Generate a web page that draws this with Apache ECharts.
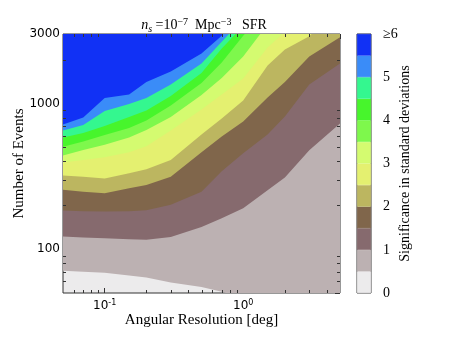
<!DOCTYPE html>
<html>
<head>
<meta charset="utf-8">
<script src="https://cdn.jsdelivr.net/npm/echarts@6/dist/echarts.min.js"></script>
<style>
  html, body { margin: 0; padding: 0; background: #fff; }
  #chart { width: 455px; height: 341px; }
</style>
</head>
<body>
<div id="chart"></div>
<script>
// angular resolution [deg] where the contours were read
const resolution = [0.05, 0.07, 0.1, 0.15, 0.2, 0.3, 0.5, 0.7, 1, 1.5, 2, 3, 5]
// number of events on each significance contour (sigma)
const sig05 = [71, 70, 69, 66, 64, 59, 55, 51, 46, 43, 41, 38, 35]
const sig10 = [122, 120, 119, 117, 116, 121, 142, 163, 191, 254, 311, 477, 730]
const sig15 = [184, 182, 181, 182, 185, 202, 248, 342, 455, 613, 815, 1349, 1879]
const sig20 = [256, 248, 242, 262, 276, 314, 462, 594, 753, 1099, 1404, 2098, 2854]
const sig25 = [321, 314, 306, 332, 353, 410, 613, 790, 1048, 1821, 2344, 2900, 4500]
const sig30 = [394, 410, 427, 462, 508, 653, 910, 1152, 1484, 2419, 3100, 4500, 7000]
const sig35 = [440, 480, 520, 585, 658, 808, 1143, 1495, 2098, 3500, 5000, 7000, 10000]
const sig40 = [504, 549, 608, 680, 765, 969, 1382, 1909, 2917, 4500, 6500, 9000, 14000]
const sig45 = [585, 628, 701, 808, 896, 1126, 1618, 2381, 3400, 5000, 7000, 10000, 15000]
const sig50 = [653, 712, 888, 992, 1091, 1349, 1879, 2659, 3800, 5500, 7500, 11000, 16000]
const sig55 = [718, 802, 1091, 1152, 1404, 1656, 2200, 2923, 4200, 6000, 8000, 12000, 18000]
const contours = [sig05, sig10, sig15, sig20, sig25, sig30, sig35, sig40, sig45, sig50, sig55]
// colour bar bands, 0 to 6 sigma in steps of 0.5
const bandStart = [0, 0.5, 1, 1.5, 2, 2.5, 3, 3.5, 4, 4.5, 5, 5.5]
const bandColors = ['#ecebec', '#bcb1b2', '#866a6e', '#80664b', '#bcb660', '#e4f070',
  '#d4fb70', '#7ef84c', '#47f52c', '#34f78f', '#3a8cf8', '#1131f5']
// minor ticks of the log axes
const minorX = [0.06, 0.07, 0.08, 0.09, 0.2, 0.3, 0.4, 0.5, 0.6, 0.7, 0.8, 0.9, 2, 3, 4]
const minorY = [60, 70, 80, 90, 200, 300, 400, 500, 600, 700, 800, 900, 2000]

const chart = echarts.init(document.getElementById('chart'))
const serif = 'Liberation Serif'
const sans = 'DejaVu Sans'
const frame = '#333'
const xMin = 0.05, xMax = 5, yMin = 50, yMax = 3000

const areaSeries = contours.map((vals, i) => ({
  type: 'line',
  xAxisIndex: 0,
  yAxisIndex: 0,
  data: resolution.map((x, j) => [x, vals[j]]),
  symbol: 'none',
  silent: true,
  clip: true,
  lineStyle: { width: 0, opacity: 0 },
  areaStyle: { origin: 'end', color: bandColors[i + 1], opacity: 1 }
}))

const barSeries = bandStart.map((b, i) => ({
  type: 'bar',
  xAxisIndex: 2,
  yAxisIndex: 2,
  stack: 'cb',
  barWidth: '100%',
  silent: true,
  data: [0.5],
  itemStyle: { color: bandColors[i], borderColor: bandColors[i], borderWidth: 0.6 }
}))

const tickLine = (x1, y1, x2, y2) => ({
  type: 'line',
  shape: { x1: x1, y1: y1, x2: x2, y2: y2 },
  style: { stroke: frame, lineWidth: 1 }
})

const minorSeries = [
  {
    type: 'custom', xAxisIndex: 0, yAxisIndex: 0, silent: true, z: 5,
    data: minorX.map(v => [v, yMin]),
    renderItem: (params, api) => {
      const b = api.coord([api.value(0), yMin])
      const t = api.coord([api.value(0), yMax])
      const x = Math.round(b[0]) + 0.5
      return { type: 'group', children: [tickLine(x, b[1], x, b[1] - 3), tickLine(x, t[1], x, t[1] + 3)] }
    }
  },
  {
    type: 'custom', xAxisIndex: 0, yAxisIndex: 0, silent: true, z: 5,
    data: minorY.map(v => [xMin, v]),
    renderItem: (params, api) => {
      const l = api.coord([xMin, api.value(1)])
      const r = api.coord([xMax, api.value(1)])
      const y = Math.round(l[1]) + 0.5
      return { type: 'group', children: [tickLine(l[0], y, l[0] + 3, y), tickLine(r[0], y, r[0] - 3, y)] }
    }
  }
]

const tickStyle = { inside: true, length: 5, lineStyle: { color: frame } }
const txt = { color: '#000', fontWeight: 'normal' }

var option = {
  animation: false,
  title: {
    text: '{i|n}{sub|s}{t| =10}{sup|−7}{t|  Mpc}{sup|−3}{t|   SFR}',
    left: 199,
    top: 12,
    textAlign: 'center',
    textStyle: {
      fontWeight: 'normal',
      rich: {
        i: Object.assign({ fontFamily: serif, fontStyle: 'italic', fontSize: 14 }, txt),
        sub: Object.assign({ fontFamily: serif, fontStyle: 'italic', fontSize: 10, verticalAlign: 'bottom', padding: [6, 0, 0, 0] }, txt),
        t: Object.assign({ fontFamily: serif, fontSize: 14 }, txt),
        sup: Object.assign({ fontFamily: serif, fontSize: 10, verticalAlign: 'top', padding: [0, 0, 7, 0] }, txt)
      }
    }
  },
  grid: [
    { left: 63, right: 115, top: 34, bottom: 48, outerBoundsMode: 'none', containLabel: false,
      show: true, backgroundColor: bandColors[0], borderColor: frame, borderWidth: 1 },
    { left: 357, width: 14, top: 34, bottom: 48, outerBoundsMode: 'none', containLabel: false,
      show: true, borderColor: frame, borderWidth: 1 }
  ],
  xAxis: [
    {
      type: 'log', logBase: 10, gridIndex: 0, min: xMin, max: xMax, position: 'bottom',
      name: 'Angular Resolution [deg]', nameLocation: 'middle', nameGap: 20, nameMoveOverlap: false,
      nameTextStyle: Object.assign({ fontFamily: serif, fontSize: 15 }, txt),
      axisLine: { show: false },
      axisTick: tickStyle,
      splitLine: { show: false },
      axisLabel: {
        showMinLabel: false, showMaxLabel: false, margin: 6,
        formatter: v => '{b|10}{s|' + Math.round(Math.log10(v)) + '}',
        rich: {
          b: Object.assign({ fontFamily: sans, fontSize: 12 }, txt),
          s: Object.assign({ fontFamily: sans, fontSize: 8, verticalAlign: 'top', padding: [0, 0, 6, 0] }, txt)
        }
      }
    },
    {
      type: 'log', logBase: 10, gridIndex: 0, min: xMin, max: xMax, position: 'top',
      axisLine: { show: false }, axisTick: tickStyle, axisLabel: { show: false }, splitLine: { show: false }
    },
    {
      type: 'category', gridIndex: 1, data: ['cb'], show: false
    }
  ],
  yAxis: [
    {
      type: 'log', logBase: 10, gridIndex: 0, min: yMin, max: yMax, position: 'left',
      name: 'Number of Events', nameLocation: 'middle', nameGap: 36, nameRotate: 90, nameMoveOverlap: false,
      nameTextStyle: Object.assign({ fontFamily: serif, fontSize: 15 }, txt),
      axisLine: { show: false },
      axisTick: tickStyle,
      splitLine: { show: false },
      axisLabel: Object.assign({
        showMinLabel: false, showMaxLabel: true, margin: 3, fontFamily: sans, fontSize: 12,
        formatter: v => String(Math.round(v))
      }, txt)
    },
    {
      type: 'log', logBase: 10, gridIndex: 0, min: yMin, max: yMax, position: 'right',
      axisLine: { show: false }, axisTick: tickStyle, axisLabel: { show: false }, splitLine: { show: false }
    },
    {
      type: 'value', gridIndex: 1, min: 0, max: 6, interval: 1, position: 'right',
      name: 'Significance in standard deviations', nameLocation: 'middle', nameGap: 27, nameRotate: 90,
      nameMoveOverlap: false,
      nameTextStyle: Object.assign({ fontFamily: serif, fontSize: 14 }, txt),
      axisLine: { show: false },
      axisTick: { show: false },
      splitLine: { show: false },
      axisLabel: Object.assign({
        margin: 12, fontFamily: serif, fontSize: 14,
        formatter: v => (v === 6 ? '≥6' : String(v))
      }, txt)
    }
  ],
  series: areaSeries.concat(barSeries, minorSeries)
}

chart.setOption(option)
</script>
</body>
</html>
